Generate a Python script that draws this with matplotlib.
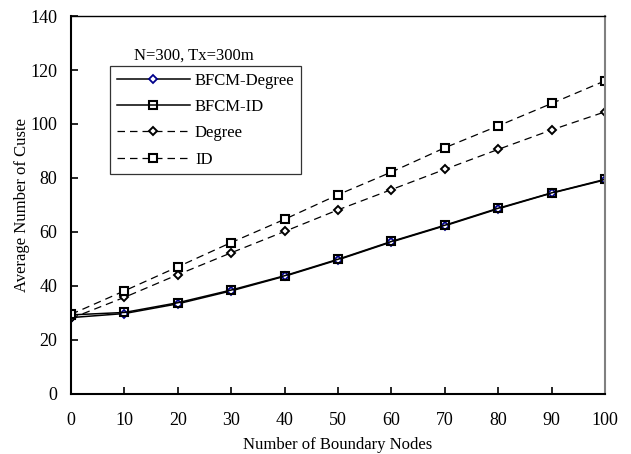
import numpy as np
import matplotlib
matplotlib.use('Agg')
import matplotlib.pyplot as plt

plt.rcParams['font.family'] = 'Liberation Serif'

# boundary nodes
nodes = [0, 10, 20, 30, 40, 50, 60, 70, 80, 90, 100]
bfcm_degree = [28.3, 29.8, 33.4, 38.2, 43.6, 49.7, 56.3, 62.3, 68.6, 74.4, 79.3]
bfcm_id = [29.3, 30.2, 33.8, 38.5, 43.8, 49.9, 56.5, 62.5, 68.8, 74.5, 79.5]
degree = [28.0, 35.8, 44.2, 52.3, 60.2, 68.2, 75.7, 83.2, 90.6, 97.8, 104.5]
cluster_id = [29.5, 38.2, 47.1, 56.1, 64.7, 73.8, 82.2, 91.2, 99.3, 107.6, 116.0]

fig = plt.figure(figsize=(6.31, 4.54), dpi=100)
ax = fig.add_axes([71/631, 1 - 394/454, 534/631, 378/454])

dash = (0, (6, 4))
ax.plot(nodes, bfcm_degree, color='black', lw=1.1, marker='D', ms=4,
        mfc='white', mec='#00008b', mew=1.3, label='BFCM-Degree')
ax.plot(nodes, bfcm_id, color='black', lw=1.1, marker='s', ms=6,
        mfc='none', mec='black', mew=1.5, label='BFCM-ID')
ax.plot(nodes, degree, color='black', lw=0.9, ls=dash, marker='D', ms=4,
        mfc='white', mec='black', mew=1.4, label='Degree')
ax.plot(nodes, cluster_id, color='black', lw=0.9, ls=dash, marker='s', ms=6,
        mfc='white', mec='black', mew=1.5, label='ID')

ax.set_xlim(0, 100)
ax.set_ylim(0, 140)
ax.set_xticks(np.arange(0, 101, 10))
ax.set_yticks(np.arange(0, 141, 20))
ax.tick_params(direction='in', labelsize=13, length=5, width=1.2)
ax.tick_params(axis='x', pad=13)
ax.tick_params(axis='y', pad=10)
for s in ['left', 'bottom']:
    ax.spines[s].set_linewidth(1.5)
ax.spines['top'].set_linewidth(1.0)
ax.spines['right'].set_color('gray')
ax.spines['right'].set_linewidth(1.5)

ax.set_xlabel('Number of Boundary Nodes', fontsize=12, labelpad=6)
ax.set_ylabel('Average Number of Custe', fontsize=12, labelpad=0)

ax.text(0.118, 0.885, 'N=300, Tx=300m', transform=ax.transAxes, fontsize=12)

leg = ax.legend(loc='upper left', bbox_to_anchor=(0.073, 0.868), fontsize=12,
                frameon=True, fancybox=False, edgecolor='black', handlelength=4.4,
                borderpad=0.4, labelspacing=0.62, handletextpad=0.3,
                borderaxespad=0)
leg.get_frame().set_linewidth(0.9)

fig.savefig('out.png', dpi=100)
